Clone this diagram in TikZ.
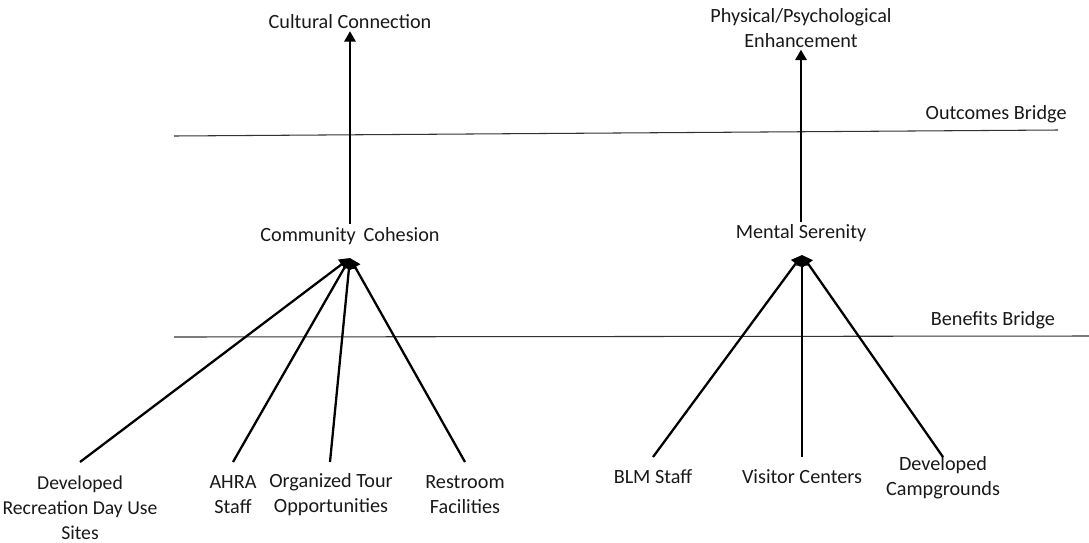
\documentclass[tikz,border=0pt]{standalone}
\usepackage{fontspec}
\setmainfont{Carlito}
\usetikzlibrary{arrows.meta}

\begin{document}
\begin{tikzpicture}[x=0.02cm,y=-0.02cm,
	lbl/.style={align=center,text=black!90,font=\fontsize{11.5}{14.2}\selectfont,inner sep=1pt},
	conn/.style={line width=1.3pt,-{Triangle[length=6pt,width=6.5pt]}},
	bridge/.style={line width=0.6pt,black!80}]
	\useasboundingbox (0,0) rectangle (1089,542);
	% outcomes
	\node[lbl] (cult) at (350,22) {Cultural Connection};
	\node[lbl] (phys) at (801,28) {Physical/Psychological\\Enhancement};
	% benefits
	\node[lbl] (cc) at (350,236) {Community\, Cohesion};
	\node[lbl] (ms) at (801,233) {Mental Serenity};
	\coordinate (ccin) at (350,258);
	\coordinate (msin) at (802,255);
	% bridges
	\draw[bridge] (174,136)--(1058,130) node[lbl,pos=0.93,above=3pt] (ob) {Outcomes Bridge};
	\draw[bridge] (174,337)--(1089,336) node[lbl,pos=0.895,above=3pt] (bb) {Benefits Bridge};
	% settings
	\node[lbl,font=\fontsize{11.2}{14.2}\selectfont] (dev) at (80,508) {Developed\\Recreation Day Use\\Sites};
	\node[lbl] (ahra) at (233,495) {AHRA\\Staff};
	\node[lbl] (tour) at (331,495) {Organized Tour\\Opportunities};
	\node[lbl] (rest) at (465,495) {Restroom\\Facilities};
	\node[lbl] (blm) at (653,477) {BLM Staff};
	\node[lbl] (vis) at (802,477) {Visitor Centers};
	\node[lbl] (camp) at (943,478) {Developed\\Campgrounds};
	
	\draw[conn] (cc.south)++(0,-23)--(cult.south);
	\draw[conn] (ms.south)++(0,-22)--(phys.south);
	\foreach \s/\e in {dev/80,ahra/233,tour/330,rest/465}
		\draw[conn] (\e,462)--(ccin);
	\foreach \s/\e in {blm/653,vis/802,camp/943}
		\draw[conn] (\e,457)--(msin);
\end{tikzpicture}
\end{document}
